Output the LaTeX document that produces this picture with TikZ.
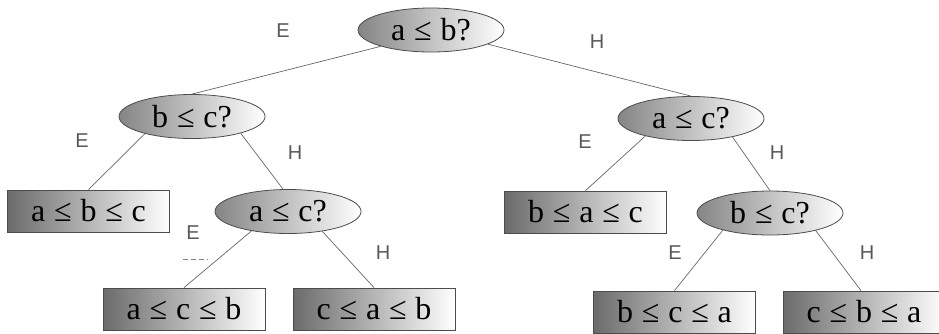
\documentclass[tikz,border=0pt]{standalone}
\usepackage{fontspec}
\newfontfamily\nodefont[WordSpace=1.1]{Liberation Serif}
\newfontfamily\edgefont{Liberation Sans}
\usetikzlibrary{shapes.geometric}

\tikzset{
  question/.style={ellipse, draw=black!70, line width=0.8pt,
    left color=black!48, right color=white,
    minimum width=146pt, minimum height=44pt, inner sep=0pt,
    font=\nodefont\fontsize{32}{32}\selectfont},
  outcome/.style={rectangle, draw=black!70, line width=0.8pt,
    left color=black!58, right color=white,
    minimum width=162pt, minimum height=42pt, inner sep=0pt,
    font=\nodefont\fontsize{32}{32}\selectfont},
  branch/.style={draw=black!60, line width=0.7pt},
  answer/.style={text=black!65, font=\edgefont\fontsize{20}{20}\selectfont},
}

\begin{document}
\begin{tikzpicture}[x=1pt, y=-1pt]
  \useasboundingbox (0,0) rectangle (939,333);
  \clip (0,0) rectangle (939,333);

  % comparisons
  \node[question] (q1) at (431,30) {a ≤ b?};
  \node[question] (q2) at (192,116.5) {b ≤ c?};
  \node[question] (q3) at (691,118.5) {a ≤ c?};
  \node[question] (q4) at (288,211.5) {a ≤ c?};
  \node[question] (q5) at (770,213) {b ≤ c?};

  % sorted orders
  \node[outcome] (l1) at (88.5,211) {a ≤ b ≤ c};
  \node[outcome] (l2) at (585.5,212) {b ≤ a ≤ c};
  \node[outcome] (l3) at (184,309) {a ≤ c ≤ b};
  \node[outcome] (l4) at (374,309) {c ≤ a ≤ b};
  \node[outcome] (l5) at (674.5,312) {b ≤ c ≤ a};
  \node[outcome] (l6) at (864,312) {c ≤ b ≤ a};

  % branches
  \draw[branch] (q1.198) -- (q2.north);
  \draw[branch] (q1.-14) -- (q3.north);
  \draw[branch] (q2.200) -- (l1.north);
  \draw[branch] (q2.-19) -- ([xshift=-5pt]q4.north);
  \draw[branch] (q3.201) -- (l2.north);
  \draw[branch] (q3.-24) -- (q5.north);
  \draw[branch] (q4.208) -- (l3.north);
  \draw[branch] (q4.-30) -- (l4.north);
  \draw[branch] (q5.200) -- (l5.north);
  \draw[branch] (q5.-21) -- ([xshift=-3pt]l6.north);

  % branch labels
  \node[answer] (e1) at (283,31) {E};
  \node[answer] (h1) at (597,42) {H};
  \node[answer] (e2) at (82,141) {E};
  \node[answer] (h2) at (295,153) {H};
  \node[answer] (e3) at (585,142) {E};
  \node[answer] (h3) at (777,153) {H};
  \node[answer] (e4) at (193,233) {E};
  \node[answer] (h4) at (383,253) {H};
  \node[answer] (e5) at (675,253) {E};
  \node[answer] (h5) at (867,253) {H};

  \draw[black!50, line width=0.6pt, dash pattern=on 5pt off 3pt] (183,259) -- (208,259);
\end{tikzpicture}
\end{document}
